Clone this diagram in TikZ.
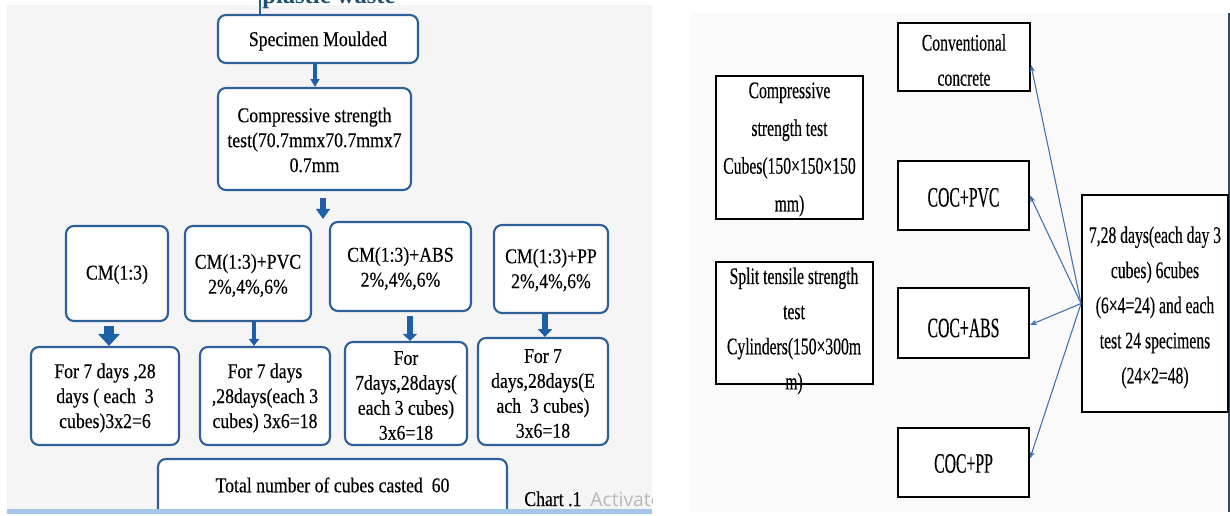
\documentclass[tikz,border=0pt]{standalone}
\usepackage{fontspec}
\setmainfont{Liberation Serif}
\newfontfamily\lfont[FakeStretch=0.84,FakeBold=0.3]{Liberation Serif}
\newfontfamily\rfont[FakeStretch=0.66,FakeBold=0.3]{Liberation Serif}
\newfontfamily\cfont[FakeStretch=0.56,FakeBold=0.3]{Liberation Serif}
\newfontfamily\wfont{Open Sans}
\usetikzlibrary{arrows.meta,fit,calc}
\definecolor{lblue}{HTML}{2E5F96}
\definecolor{afill}{HTML}{1F5FA8}
\definecolor{cblue}{HTML}{3F6FAA}
\definecolor{lbg}{HTML}{F5F5F5}
\definecolor{rbg}{HTML}{FAFAFA}
\definecolor{ptxt}{HTML}{1D4F6E}
\definecolor{bline}{HTML}{A4C6EA}
\definecolor{edgec}{HTML}{3A4A5E}
\begin{document}
\begin{tikzpicture}[x=0.02cm,y=-0.02cm,
  lbox/.style={draw=lblue, line width=1.2pt, rounded corners=4.5pt, fill=white, inner sep=0pt},
  ltext/.style={align=center, inner sep=0pt, font=\lfont\fontsize{12}{14.2}\selectfont},
  rbox/.style={draw=black, line width=1.1pt, fill=white, inner sep=0pt},
  rtext/.style={align=center, inner sep=0pt, font=\rfont\fontsize{13.5}{20}\selectfont},
  ctext/.style={align=center, inner sep=0pt, font=\cfont\fontsize{16}{20}\selectfont},
  blk/.style={draw=afill},
  conn/.style={draw=cblue, line width=0.6pt, -{Stealth[length=4pt,width=3pt]}}
]
\clip (0,0) rectangle (1230,516);
\useasboundingbox (0,0) rectangle (1230,516);

% ---------- left panel ----------
\fill[lbg] (7,5) rectangle (652,509);
\begin{scope}
\clip (7,0) rectangle (652,509);
\node[anchor=base west, inner sep=0pt, text=ptxt, font=\bfseries\fontsize{14}{14}\selectfont] (pw) at (262,4) {plastic waste};
\coordinate (topin) at (260,0);

\node[lbox, fit={(218,15)(418,63)}] (sm) {};
\node[ltext] (smt) at ($(sm.center)+(0,2)$) {Specimen Moulded};
\node[lbox, fit={(218,88)(411,190)}] (cs) {};
\node[ltext] (cst) at ($(cs.center)+(0,1)$) {Compressive strength\\test(70.7mmx70.7mmx7\\0.7mm};

\node[lbox, fit={(66,226)(168,321)}] (c1) {};
\node[ltext] (c1t) at ($(c1.center)+(0,1)$) {CM(1:3)};
\node[lbox, fit={(185,226)(311,321)}] (c2) {};
\node[ltext] (c2t) at ($(c2.center)+(0,2)$) {CM(1:3)+PVC\\2\%,4\%,6\%};
\node[lbox, fit={(330,222)(471,311)}] (c3) {};
\node[ltext] (c3t) at ($(c3.center)+(0,2)$) {CM(1:3)+ABS\\2\%,4\%,6\%};
\node[lbox, fit={(494,225)(608,313)}] (c4) {};
\node[ltext] (c4t) at ($(c4.center)+(0,1)$) {CM(1:3)+PP\\2\%,4\%,6\%};

\node[lbox, fit={(31,347)(179,445)}] (d1) {};
\node[ltext] (d1t) at ($(d1.center)+(0,2)$) {For 7 days ,28\\days ( each~~3\\cubes)3x2=6};
\node[lbox, fit={(200,347)(330,445)}] (d2) {};
\node[ltext] (d2t) at ($(d2.center)+(0,2)$) {For 7 days\\,28days(each 3\\cubes) 3x6=18};
\node[lbox, fit={(345,342)(467,445)}] (d3) {};
\node[ltext] (d3t) at ($(d3.center)+(0,2)$) {For\\7days,28days(\\each 3 cubes)\\3x6=18};
\node[lbox, fit={(478,338)(608,445)}] (d4) {};
\node[ltext] (d4t) at ($(d4.center)+(0,2)$) {For 7\\days,28days(E\\ach~~3 cubes)\\3x6=18};

\node[lbox, fit={(158,459)(507,530)}] (tot) {};
\node[ltext] (tott) at ($(tot.north)+(0,27)$) {Total number of cubes casted~~60};

\node[anchor=base west, inner sep=0pt, font=\lfont\fontsize{12}{14}\selectfont] (chart) at (524,506) {Chart .1};
\node[anchor=base west, inner sep=0pt, text=black!28, font=\wfont\fontsize{11}{12}\selectfont] (act) at (590,506) {Activate};

% connectors
\draw[lblue, line width=1.4pt] (topin) -- (topin |- sm.north);
\coordinate (a0) at ($(sm.south)+(-3,0)$);
\draw[blk, line width=2.3pt, -{Triangle[width=5pt,length=4.5pt]}] (a0) -- (a0 |- cs.north);
\coordinate (split) at (323,219);
\coordinate (as) at ($(split |- cs.south)+(0,7)$);
\draw[blk, line width=3.4pt, -{Triangle[width=7.7pt,length=5.7pt]}] (as) -- (split);
\coordinate (a1) at ($(c1.south)+(-8,4)$);
\draw[blk, line width=5.7pt, -{Triangle[width=12pt,length=6.8pt]}] (a1) -- (a1 |- d1.north);
\coordinate (a2) at ($(c2.south)+(6,0)$);
\draw[blk, line width=2.3pt, -{Triangle[width=5.7pt,length=4pt]}] (a2) -- (a2 |- d2.north);
\coordinate (a3) at ($(c3.south)+(9.5,4)$);
\draw[blk, line width=3.4pt, -{Triangle[width=8pt,length=4pt]}] (a3) -- (a3 |- d3.north);
\coordinate (a4) at ($(c4.south)+(-6,0)$);
\draw[blk, line width=3.4pt, -{Triangle[width=8pt,length=4.5pt]}] (a4) -- (a4 |- d4.north);
\end{scope}
\fill[bline] (7,509) rectangle (652,514);

% ---------- right panel ----------
\fill[rbg] (690,13) rectangle (1230,512);
\draw[edgec, line width=1.2pt] (1229,13) -- (1229,512);

\node[rbox, fit={(898,23)(1030,91)}] (conv) {};
\node[rtext] (convt) at ($(conv.center)+(0,3)$) {Conventional\\concrete};
\node[rbox, fit={(716,76)(863,219)}] (cube) {};
\node[rtext, font=\rfont\fontsize{13.5}{21.5}\selectfont] (cubet) at ($(cube.center)+(0,2)$) {Compressive\\strength test\\Cubes(150×150×150\\mm)};
\node[rbox, fit={(898,161)(1029,230)}] (pvc) {};
\node[ctext] (pvct) at ($(pvc.center)+(0,2)$) {COC+PVC};
\node[rbox, fit={(716,262)(873,384)}] (cyl) {};
\node[rtext] (cylt) at (794,331) {Split tensile strength\\test\\Cylinders(150×300m\\m)};
\node[rbox, fit={(898,288)(1029,358)}] (abs) {};
\node[ctext] (abst) at ($(abs.center)+(0,5)$) {COC+ABS};
\node[rbox, fit={(898,428)(1029,497)}] (pp) {};
\node[ctext] (ppt) at ($(pp.center)+(0,1)$) {COC+PP};
\node[rbox, fit={(1082,195)(1228,412)}] (big) {};
\node[rtext] (bigt) at ($(big.center)+(0,4)$) {7,28 days(each day 3\\cubes) 6cubes\\(6×4=24) and each\\test 24 specimens\\(24×2=48)};

\draw[conn] (big.west) -- ($(conv.east)+(0,8)$);
\draw[conn] (big.west) -- (pvc.east);
\draw[conn] (big.west) -- ($(abs.east)+(0,2)$);
\draw[conn] (big.west) -- ($(pp.east)+(0,-4)$);
\end{tikzpicture}
\end{document}
